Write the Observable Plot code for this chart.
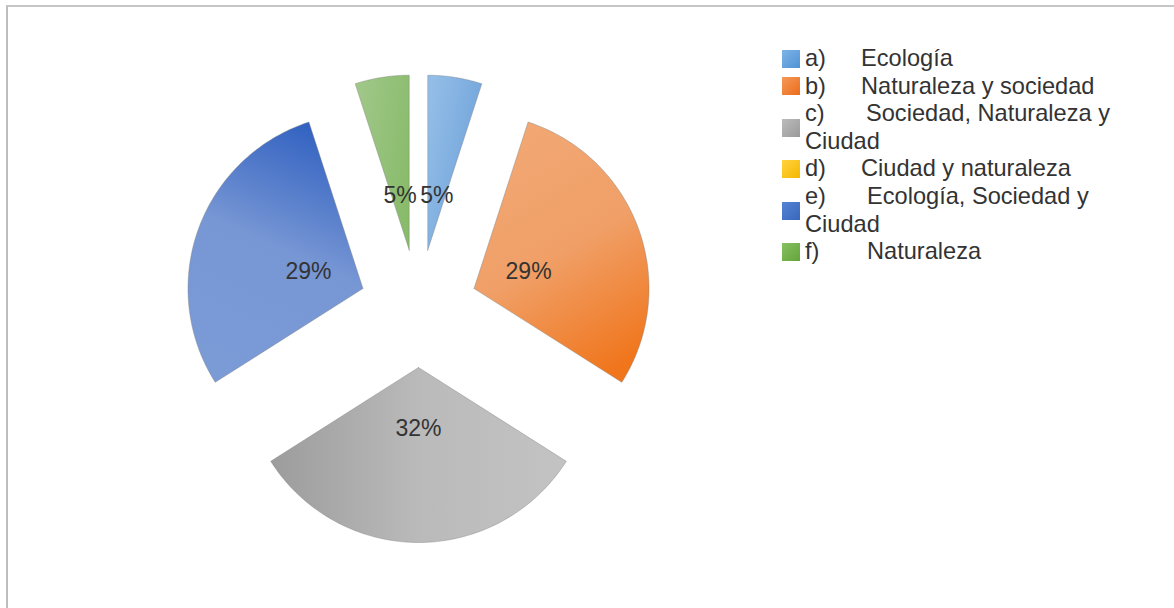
<!DOCTYPE html>
<html>
<head>
<meta charset="utf-8">
<script src="https://cdn.jsdelivr.net/npm/d3@7"></script>
<script src="https://cdn.jsdelivr.net/npm/@observablehq/plot@0.6"></script>
<style>
html, body { margin: 0; padding: 0; background: #fff; }
#wrap { position: relative; width: 1174px; height: 608px; overflow: hidden; font-family: "Liberation Sans", Arial, sans-serif; }
#chart { position: absolute; left: 0; top: 0; }
#frame { position: absolute; left: 6px; top: 5px; width: 1300px; height: 800px;
  border-left: 2px solid #bdbdbd; border-top: 2px solid #c6c6c6; pointer-events: none; box-sizing: border-box; }
#legend { position: absolute; left: 782px; top: 45px; width: 362px; font-size: 23.6px; line-height: 27.6px; color: #333; }
.item { position: relative; padding-left: 23px; }
.sw { position: absolute; left: 0; top: 50%; width: 18px; height: 18px; margin-top: -9px; box-sizing: border-box; }
.code { display: inline-block; }
</style>
</head>
<body>
<div id="wrap">
  <div id="chart"></div>
  <div id="legend"></div>
  <div id="frame"></div>
</div>
<script>
// ---- data ----
const categories = ["a)", "b)", "c)", "d)", "e)", "f)"];
const names = ["Ecología", "Naturaleza y sociedad", "Sociedad, Naturaleza y Ciudad", "Ciudad y naturaleza", "Ecología, Sociedad y Ciudad", "Naturaleza"];
const percents = [5, 29, 32, 0, 29, 5];

// ---- styles ----
const W = 1174, H = 608;
const cxPx = 418, cyPx = 308, rPx = 175;   // pie centre and radius in pixels
const explode = 59 / 175;                   // explosion as fraction of radius
const labelDist = 117 / 175;                // label distance from centre
const gradients = [
  {x1: 0, y1: 0.2, x2: 1, y2: 0.8, stops: [[0, "#93bde7"], [1, "#6a9fd8"]]},
  {x1: 0.3, y1: 0, x2: 0.7, y2: 1, stops: [[0, "#f2a874"], [0.5, "#f09f67"], [1, "#f0751b"]]},
  {x1: 0, y1: 0.5, x2: 1, y2: 0.5, stops: [[0, "#9c9c9c"], [0.5, "#bababa"], [1, "#c3c3c3"]]},
  {x1: 0, y1: 0, x2: 0, y2: 1, stops: [[0, "#ffd34d"], [1, "#ffc000"]]},
  {x1: 0.65, y1: 0, x2: 0.35, y2: 1, stops: [[0, "#3262c1"], [0.48, "#7796d4"], [1, "#7b9bd7"]]},
  {x1: 0, y1: 0.3, x2: 1, y2: 0.7, stops: [[0, "#9fc788"], [1, "#88bb6a"]]}
];
const swatchBg = [
  "linear-gradient(135deg,#7fb3e6,#4f93d6)",
  "linear-gradient(135deg,#f4995a,#ec6c1a)",
  "linear-gradient(135deg,#bcbcbc,#9a9a9a)",
  "linear-gradient(135deg,#ffd23f,#f5b800)",
  "linear-gradient(135deg,#5384d6,#3a66bb)",
  "linear-gradient(135deg,#86c160,#65a43c)"
];

// ---- geometry from values ----
const pie = d3.pie().sort(null).value(d => d.value).startAngle(0).endAngle(2 * Math.PI);
const rows = categories.map((c, i) => ({cat: c, name: names[i], value: percents[i]}));
const arcs = pie(rows).filter(a => a.data.value > 0);
const slicePts = [];
const labels = [];
for (const a of arcs) {
  const mid = (a.startAngle + a.endAngle) / 2;
  const ox = explode * Math.sin(mid), oy = explode * Math.cos(mid);
  slicePts.push({cat: a.data.cat, x: ox, y: oy});
  const n = 80;
  for (let k = 0; k <= n; k++) {
    const t = a.startAngle + (a.endAngle - a.startAngle) * k / n;
    slicePts.push({cat: a.data.cat, x: ox + Math.sin(t), y: oy + Math.cos(t)});
  }
  slicePts.push({cat: a.data.cat, x: ox, y: oy});
  labels.push({x: labelDist * Math.sin(mid), y: labelDist * Math.cos(mid), text: a.data.value + "%"});
}

const svg = Plot.plot({
  width: W, height: H,
  margin: 0,
  style: {background: "none", overflow: "visible"},
  x: {domain: [-cxPx / rPx, (W - cxPx) / rPx], range: [0, W], axis: null},
  y: {domain: [-(H - cyPx) / rPx, cyPx / rPx], range: [H, 0], axis: null},
  color: {type: "ordinal", domain: categories, range: categories.map((c, i) => `url(#grad${i})`)},
  marks: [
    Plot.line(slicePts, {x: "x", y: "y", z: "cat", fill: "cat", stroke: "#7f7f7f", strokeOpacity: 0.45, strokeWidth: 0.9, strokeLinejoin: "round", curve: "linear"}),
    Plot.text(labels, {x: "x", y: "y", text: "text", dy: 3, fontSize: 23, fill: "#333", fontFamily: "Liberation Sans, Arial, sans-serif"})
  ]
});

const defs = d3.select(svg).insert("defs", ":first-child");
gradients.forEach((g, i) => {
  const lg = defs.append("linearGradient").attr("id", `grad${i}`)
    .attr("x1", g.x1).attr("y1", g.y1).attr("x2", g.x2).attr("y2", g.y2);
  g.stops.forEach(([o, c]) => lg.append("stop").attr("offset", o).attr("stop-color", c));
});
document.getElementById("chart").appendChild(svg);

// ---- legend ----
const codeWidths = [56, 56, 61, 56, 62, 62];
const legend = d3.select("#legend");
rows.forEach((r, i) => {
  const it = legend.append("div").attr("class", "item");
  it.append("span").attr("class", "sw").style("background", swatchBg[i]);
  it.append("span").attr("class", "code").style("width", codeWidths[i] + "px").text(r.cat);
  const words = r.name.split(" ");
  words.forEach((w, k) => {
    it.append("span").text(w);
    if (k < words.length - 1) it.append(() => document.createTextNode(" "));
  });
});
</script>
</body>
</html>
